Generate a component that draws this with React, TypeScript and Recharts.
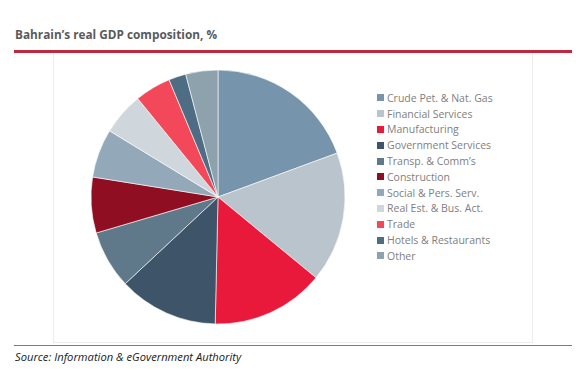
import React from "react";
import { PieChart, Pie, Cell } from "recharts";

const sectors = [
  "Crude Pet. & Nat. Gas",
  "Financial Services",
  "Manufacturing",
  "Government Services",
  "Transp. & Comm’s",
  "Construction",
  "Social & Pers. Serv.",
  "Real Est. & Bus. Act.",
  "Trade",
  "Hotels & Restaurants",
  "Other",
];

const shares = [19.4, 16.6, 14.4, 12.7, 7.4, 7.1, 6.2, 5.4, 4.6, 2.2, 4.1];

const colors = [
  "#7694ab",
  "#b9c4cc",
  "#e8193a",
  "#3e5569",
  "#60798a",
  "#8f0e21",
  "#93a8b8",
  "#cfd6dc",
  "#f2485a",
  "#4e6d85",
  "#8ea2ae",
];

const data = sectors.map((name, i) => ({ name, value: shares[i] }));

function LegendList() {
  return (
    <div style={{ fontFamily: "'Open Sans', sans-serif", fontSize: 10.5, color: "#808080" }}>
      {sectors.map((s, i) => (
        <div key={s} style={{ display: "flex", alignItems: "center", height: 15.8 }}>
          <span
            style={{
              width: 7,
              height: 7,
              background: colors[i],
              marginRight: 3,
              display: "inline-block",
            }}
          />
          <span>{s}</span>
        </div>
      ))}
    </div>
  );
}

export default function App() {
  return (
    <div
      style={{
        position: "absolute",
        left: 0,
        top: 0,
        width: 585,
        height: 370,
        background: "#fff",
        fontFamily: "'Open Sans', sans-serif",
      }}
    >
      <div
        style={{
          position: "absolute",
          left: 15,
          top: 26,
          fontSize: 11.8,
          fontWeight: 700,
          color: "#5a5a5a",
        }}
      >
        Bahrain’s real GDP composition, %
      </div>
      <div style={{ position: "absolute", left: 14, top: 50, width: 558, height: 3, background: "#c0283f" }} />
      <div
        style={{
          position: "absolute",
          left: 53,
          top: 53,
          width: 480,
          height: 290,
          border: "1px solid #ececec",
          borderTop: "none",
          boxSizing: "border-box",
        }}
      />
      <div style={{ position: "absolute", left: 14, top: 345, width: 558, height: 1, background: "#7a7a7a" }} />
      <div
        style={{
          position: "absolute",
          left: 15,
          top: 349,
          fontSize: 11.2,
          fontStyle: "italic",
          color: "#1a1a1a",
        }}
      >
        Source: Information &amp; eGovernment Authority
      </div>
      <div style={{ position: "absolute", left: 0, top: 0 }}>
        <PieChart width={585} height={370} margin={{ top: 0, right: 0, bottom: 0, left: 0 }}>
          <Pie
            data={data}
            dataKey="value"
            nameKey="name"
            cx={218}
            cy={197}
            outerRadius={127}
            startAngle={90}
            endAngle={-270}
            stroke="#ffffff"
            strokeWidth={0.6}
            isAnimationActive={false}
          >
            {data.map((d, i) => (
              <Cell key={d.name} fill={colors[i]} />
            ))}
          </Pie>
        </PieChart>
      </div>
      <div style={{ position: "absolute", left: 377, top: 90 }}>
        <LegendList />
      </div>
    </div>
  );
}
